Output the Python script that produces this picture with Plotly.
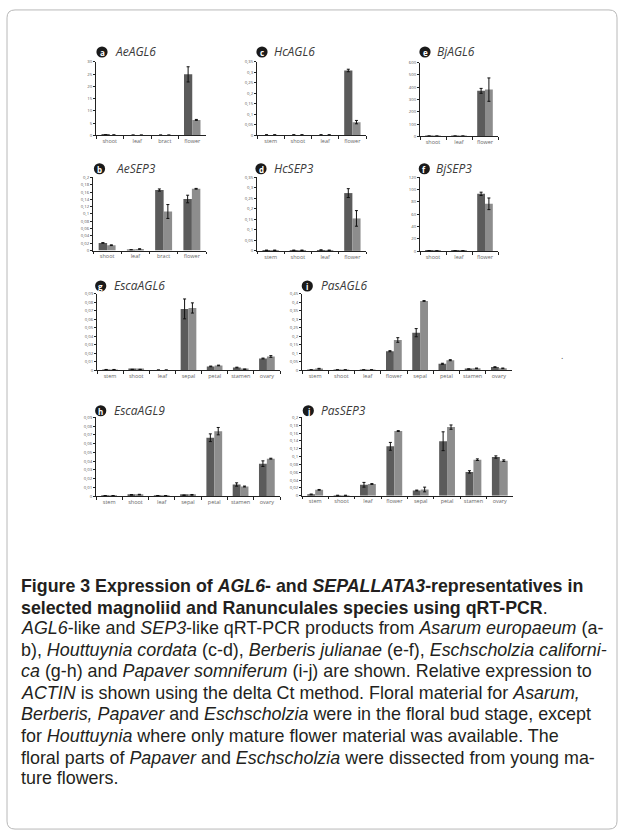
import plotly.graph_objects as go

W, H = 624, 839

# ---------------- data ----------------
a_cats = ["shoot", "leaf", "bract", "flower"]
a_dark = [0.2, 0.1, 0.1, 24.9]
a_dark_err = [0.05, 0.02, 0.02, 3.1]
a_light = [0.15, 0.1, 0.1, 6.3]
a_light_err = [0.05, 0.02, 0.02, 0.2]

b_cats = ["shoot", "leaf", "bract", "flower"]
b_dark = [0.0208, 0.002, 0.1655, 0.141]
b_dark_err = [0.0008, 0.0003, 0.003, 0.0104]
b_light = [0.0145, 0.004, 0.1068, 0.169]
b_light_err = [0.001, 0.0008, 0.019, 0.001]

c_cats = ["stem", "shoot", "leaf", "flower"]
c_dark = [0.002, 0.002, 0.002, 0.309]
c_dark_err = [0.001, 0.001, 0.001, 0.006]
c_light = [0.002, 0.002, 0.002, 0.063]
c_light_err = [0.001, 0.001, 0.001, 0.008]

d_cats = ["stem", "shoot", "leaf", "flower"]
d_dark = [0.003, 0.003, 0.004, 0.274]
d_dark_err = [0.001, 0.001, 0.001, 0.021]
d_light = [0.003, 0.003, 0.003, 0.154]
d_light_err = [0.001, 0.001, 0.001, 0.037]

e_cats = ["shoot", "leaf", "flower"]
e_dark = [2, 2, 370]
e_dark_err = [1, 1, 20]
e_light = [2, 2, 380]
e_light_err = [1, 1, 95]

f_cats = ["shoot", "leaf", "flower"]
f_dark = [0.6, 0.5, 92.8]
f_dark_err = [0.3, 0.2, 2.7]
f_light = [0.5, 0.6, 76.7]
f_light_err = [0.2, 0.2, 9.4]

g_cats = ["stem", "shoot", "leaf", "sepal", "petal", "stamen", "ovary"]
g_dark = [0.0005, 0.0007, 0, 0.072, 0.0043, 0.003, 0.0136]
g_dark_err = [0.0002, 0.0002, 0, 0.0117, 0.0004, 0.0004, 0.0005]
g_light = [0.0005, 0.0007, 0, 0.0731, 0.0054, 0.001, 0.016]
g_light_err = [0.0002, 0.0002, 0, 0.006, 0.0004, 0.0002, 0.001]

h_cats = ["stem", "shoot", "leaf", "sepal", "petal", "stamen", "ovary"]
h_dark = [0.0005, 0.0015, 0.0005, 0.001, 0.0667, 0.0133, 0.0371]
h_dark_err = [0.0002, 0.0003, 0.0002, 0.0003, 0.0044, 0.0019, 0.0032]
h_light = [0.0005, 0.0018, 0.0005, 0.0015, 0.0742, 0.011, 0.0428]
h_light_err = [0.0002, 0.0003, 0.0002, 0.0004, 0.0042, 0.0005, 0.0005]

i_cats = ["stem", "shoot", "leaf", "flower", "sepal", "petal", "stamen", "ovary"]
i_dark = [0.001, 0.001, 0.001, 0.111, 0.22, 0.037, 0.006, 0.0175]
i_dark_err = [0.0005, 0.0005, 0.0005, 0.003, 0.024, 0.003, 0.001, 0.002]
i_light = [0.008, 0.001, 0.001, 0.177, 0.4066, 0.058, 0.01, 0.01]
i_light_err = [0.002, 0.0005, 0.0005, 0.0136, 0.002, 0.003, 0.002, 0.002]

j_cats = ["stem", "shoot", "leaf", "flower", "sepal", "petal", "stamen", "ovary"]
j_dark = [0.0034, 0.001, 0.028, 0.126, 0.0135, 0.139, 0.0608, 0.0987]
j_dark_err = [0.001, 0.0003, 0.006, 0.01, 0.001, 0.024, 0.003, 0.003]
j_light = [0.015, 0.001, 0.030, 0.165, 0.016, 0.175, 0.092, 0.0895]
j_light_err = [0.001, 0.0003, 0.001, 0.001, 0.006, 0.0055, 0.002, 0.002]

panel_letters = ["a", "b", "c", "d", "e", "f", "g", "h", "i", "j"]
panel_genes = ["AeAGL6", "AeSEP3", "HcAGL6", "HcSEP3", "BjAGL6", "BjSEP3",
               "EscaAGL6", "EscaAGL9", "PasAGL6", "PasSEP3"]
panel_ymax = [30, 0.2, 0.35, 0.35, 600, 120, 0.09, 0.09, 0.45, 0.2]
panel_dtick = [5, 0.02, 0.05, 0.05, 100, 20, 0.01, 0.01, 0.05, 0.02]

caption_lines = [
    "<b>Figure 3 Expression of <i>AGL6</i>- and <i>SEPALLATA3</i>-representatives in</b>",
    "<b>selected magnoliid and Ranunculales species using qRT-PCR</b>.",
    "<i>AGL6</i>-like and <i>SEP3</i>-like qRT-PCR products from <i>Asarum europaeum</i> (a-",
    "b), <i>Houttuynia cordata</i> (c-d), <i>Berberis julianae</i> (e-f), <i>Eschscholzia californi-</i>",
    "<i>ca</i> (g-h) and <i>Papaver somniferum</i> (i-j) are shown. Relative expression to",
    "<i>ACTIN</i> is shown using the delta Ct method. Floral material for <i>Asarum,</i>",
    "<i>Berberis, Papaver</i> and <i>Eschscholzia</i> were in the floral bud stage, except",
    "for <i>Houttuynia</i> where only mature flower material was available. The",
    "floral parts of <i>Papaver</i> and <i>Eschscholzia</i> were dissected from young ma-",
    "ture flowers.",
]

panels = [
    (a_cats, a_dark, a_dark_err, a_light, a_light_err),
    (b_cats, b_dark, b_dark_err, b_light, b_light_err),
    (c_cats, c_dark, c_dark_err, c_light, c_light_err),
    (d_cats, d_dark, d_dark_err, d_light, d_light_err),
    (e_cats, e_dark, e_dark_err, e_light, e_light_err),
    (f_cats, f_dark, f_dark_err, f_light, f_light_err),
    (g_cats, g_dark, g_dark_err, g_light, g_light_err),
    (h_cats, h_dark, h_dark_err, h_light, h_light_err),
    (i_cats, i_dark, i_dark_err, i_light, i_light_err),
    (j_cats, j_dark, j_dark_err, j_light, j_light_err),
]

# ---------------- layout geometry (pixels) ----------------
# x0, x1, y_top, y_zero
boxes = [
    (96, 206, 59.3, 133.3),
    (93, 206, 175.7, 249.3),
    (257, 366, 59.3, 133.3),
    (257, 366, 175.3, 249.7),
    (420, 498, 60, 134.3),
    (420, 498, 175.3, 250),
    (97, 280, 292.7, 369.7),
    (96, 280, 417.3, 496.7),
    (302, 512, 292.7, 369.7),
    (302, 513, 417.3, 496.3),
]
# circle centre x, y, title text x
titles_pos = [
    (102, 49.3, 113),
    (99.5, 167, 114),
    (262, 49.3, 272),
    (261, 167, 272),
    (425, 49.3, 435),
    (424.3, 167, 434),
    (100.7, 285, 112),
    (100.7, 410.7, 112),
    (307.3, 285, 319),
    (308.3, 410.7, 319),
]
caption_y = [587, 609, 630, 652, 673, 695, 716, 738, 760, 781]

DARK = "#5b5b5b"
LIGHT = "#8d8d8d"
FONT = "Open Sans"
CAP_FONT = "Liberation Sans"


def px(x):
    return x / W


def py(y):
    return 1 - y / H


fig = go.Figure()
layout = {}
shapes = []
annotations = []

for k, (cats, dk, dke, lt, lte) in enumerate(panels):
    n = k + 1
    xa = "x" if n == 1 else f"x{n}"
    ya = "y" if n == 1 else f"y{n}"
    for vals, errs, col in ((dk, dke, DARK), (lt, lte, LIGHT)):
        fig.add_trace(go.Bar(
            x=cats, y=vals, xaxis=xa, yaxis=ya, marker=dict(color=col, line=dict(width=0)),
            error_y=dict(type="data", array=errs, color="#111111", thickness=1, width=1.5),
            showlegend=False, hoverinfo="skip"))
    x0, x1, yt, yz = boxes[k]
    ymax = panel_ymax[k]
    layout["xaxis" if n == 1 else f"xaxis{n}"] = dict(
        domain=[px(x0), px(x1)], anchor=ya, type="category",
        categoryorder="array", categoryarray=cats,
        range=[-0.5, len(cats) - 0.5],
        showline=True, linecolor="#222222", linewidth=1,
        ticks="outside", tickson="boundaries", ticklen=2.5, tickcolor="#222222",
        tickangle=0,
        tickfont=dict(size=5.5, color="#666666", family=FONT),
        showgrid=False, zeroline=False, fixedrange=True)
    layout["yaxis" if n == 1 else f"yaxis{n}"] = dict(
        domain=[py(yz), py(yt)], anchor=xa, range=[0, ymax],
        tick0=0, dtick=panel_dtick[k],
        showline=True, linecolor="#222222", linewidth=1,
        ticks="outside", ticklen=2, tickcolor="#222222",
        tickfont=dict(size=4.3, color="#555555", family=FONT),
        showgrid=False, zeroline=False, fixedrange=True)
    cx, cy, tx = titles_pos[k]
    r = 5.6
    shapes.append(dict(type="circle", xref="paper", yref="paper",
                       x0=px(cx - r), x1=px(cx + r), y0=py(cy + r), y1=py(cy - r),
                       fillcolor="#1a1a1a", line=dict(width=0)))
    annotations.append(dict(text=f"<b>{panel_letters[k]}</b>", xref="paper", yref="paper",
                            x=px(cx), y=py(cy + 0.5), xanchor="center", yanchor="middle",
                            showarrow=False, font=dict(size=8, color="white", family=FONT)))
    annotations.append(dict(text=f"<i>{panel_genes[k]}</i>", xref="paper", yref="paper",
                            x=px(tx), y=py(cy), xanchor="left", yanchor="middle",
                            showarrow=False, font=dict(size=12, color="#3a3a3a", family=FONT)))

# stray dot on right
annotations.append(dict(text=".", xref="paper", yref="paper", x=px(565), y=py(355),
                        showarrow=False, font=dict(size=9, color="#555555", family=FONT)))

# caption
for idx, (line, yy) in enumerate(zip(caption_lines, caption_y)):
    size = 17.8 if idx < 2 else 17.9
    annotations.append(dict(text=line, xref="paper", yref="paper", x=px(20), y=py(yy),
                            xanchor="left", yanchor="middle", showarrow=False, borderpad=0,
                            font=dict(size=size, color="#231f20", family=CAP_FONT)))

# frame
fx0, fy0, fx1, fy1, rr = 7, 7, 617, 832, 8
path = (f"M {px(fx0 + rr)},{py(fy0)} L {px(fx1 - rr)},{py(fy0)} "
        f"Q {px(fx1)},{py(fy0)} {px(fx1)},{py(fy0 + rr)} "
        f"L {px(fx1)},{py(fy1 - rr)} Q {px(fx1)},{py(fy1)} {px(fx1 - rr)},{py(fy1)} "
        f"L {px(fx0 + rr)},{py(fy1)} Q {px(fx0)},{py(fy1)} {px(fx0)},{py(fy1 - rr)} "
        f"L {px(fx0)},{py(fy0 + rr)} Q {px(fx0)},{py(fy0)} {px(fx0 + rr)},{py(fy0)} Z")
shapes.append(dict(type="path", xref="paper", yref="paper", path=path,
                   line=dict(color="#b8b8b8", width=1), fillcolor="rgba(0,0,0,0)"))

fig.update_layout(
    width=W, height=H, margin=dict(l=0, r=0, t=0, b=0),
    paper_bgcolor="white", plot_bgcolor="white",
    barmode="group", bargap=0.4, bargroupgap=0,
    separators=", ", font=dict(family=FONT),
    shapes=shapes, annotations=annotations, showlegend=False,
    **layout)

fig.write_html("out.html", config={"displayModeBar": False},
               post_script="document.body.style.margin='0px';document.body.style.overflow='hidden';")
